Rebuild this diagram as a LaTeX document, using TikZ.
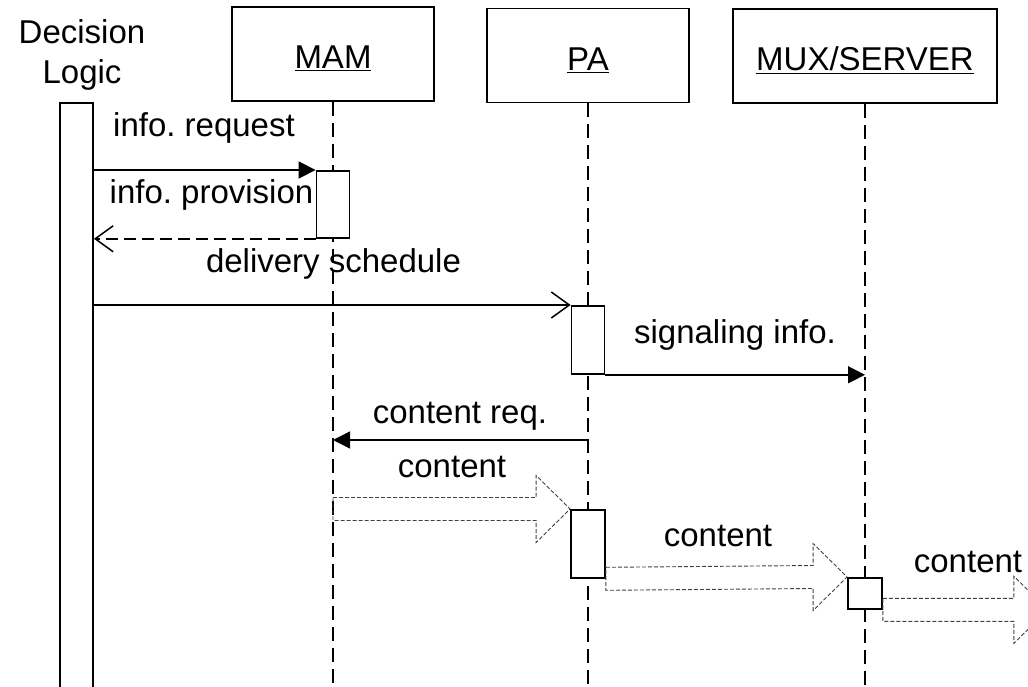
\documentclass[tikz,border=0pt]{standalone}
\usepackage{fontspec}
\setmainfont{Liberation Sans}
\usetikzlibrary{arrows.meta,calc}
\frenchspacing
\newcommand\fatarrow[2]{%
  \draw[blockarr] ($(#1)+(0,-11.5)$) -- ($(#2)+(-34,-11.5)$) -- ($(#2)+(-34,-33.5)$) -- (#2)
    -- ($(#2)+(-34,33.5)$) -- ($(#2)+(-34,11.5)$) -- ($(#1)+(0,11.5)$) -- cycle;}
\begin{document}
\begin{tikzpicture}[x=1pt,y=-1pt,
  every node/.style={font=\fontsize{33}{40}\selectfont},
  obj/.style={draw, line width=1.8pt, fill=white, inner sep=0pt, minimum height=94pt,
    text height=30pt, text depth=0pt},
  act/.style={draw, line width=1.8pt, fill=white, inner sep=0pt, minimum width=33pt},
  life/.style={line width=1.8pt, dash pattern=on 14pt off 7pt},
  msg/.style={line width=1.5pt},
  filledtip/.style={-{Triangle[length=17pt,width=17pt]}},
  opentip/.style={-{Straight Barb[length=18pt,width=26pt,line width=1.5pt]}},
  blockarr/.style={draw=black!75, line width=0.9pt, dash pattern=on 4pt off 2pt},
  lbl/.style={anchor=base, inner sep=0pt}]
\useasboundingbox (0,0) rectangle (1028,687);
% objects
\node[obj, minimum width=202pt] (mam) at (333,54) {\underline{MAM}};
\node[obj, minimum width=202pt] (pa) at (588,55.5) {\underline{PA}};
\node[obj, minimum width=264pt] (mux) at (865,56) {\underline{MUX/SERVER}};
\node[align=center, inner sep=0pt] (dl) at (82,55) {Decision\\Logic};
% lifelines
\coordinate (mamend) at (mam.south |- 0,690);
\coordinate (paend) at (pa.south |- 0,690);
\coordinate (muxend) at (mux.south |- 0,690);
\draw[life] (mam.south) -- (mamend);
\draw[life] (pa.south) -- (paend);
\draw[life] (mux.south) -- (muxend);
% activation boxes
\node[act, minimum height=590pt, anchor=north] (dlbar) at (76.5,102) {};
\node[act, minimum height=67pt, anchor=north] (a1) at (mam.south |- 0,170) {};
\node[act, minimum height=68pt, anchor=north] (a2) at (pa.south |- 0,305) {};
\node[act, minimum height=68pt, minimum width=34pt, anchor=north] (a3) at (pa.south |- 0,509) {};
\node[act, minimum height=31pt, minimum width=34pt, anchor=north] (a4) at (mux.south |- 0,577) {};
% block arrows (content flow)
\coordinate (b1s) at (mam.south |- a3.north);
\coordinate (b3t) at ($(a4.south east)+(165,0)$);
\fatarrow{b1s}{a3.north west}
\fatarrow{a3.south east}{a4.north west}
\fatarrow{a4.south east}{b3t}
% messages
\draw[msg, filledtip] (dlbar.east |- a1.north) -- (a1.north west);
\node[lbl] (t1) at (204,137) {info. request};
\draw[msg, opentip, dash pattern=on 12pt off 6pt] (a1.south west) -- (dlbar.east |- a1.south);
\node[lbl] (t2) at (211.5,204) {info. provision};
\draw[msg, opentip] (dlbar.east |- a2.north) -- (a2.north west);
\node[lbl] (t3) at (333.5,272) {delivery schedule};
\draw[msg, filledtip] (a2.south east) -- (mux.south |- a2.south);
\node[lbl] (t4) at (735,343) {signaling info.};
\coordinate (crs) at (pa.south |- 0,440);
\draw[msg, filledtip] (crs) -- (mam.south |- crs);
\node[lbl] (t5) at (460,423) {content req.};
\node[lbl] (t6) at (452,477) {content};
\node[lbl] (t7) at (718,546) {content};
\node[lbl] (t8) at (968,572) {content};
\end{tikzpicture}
\end{document}
